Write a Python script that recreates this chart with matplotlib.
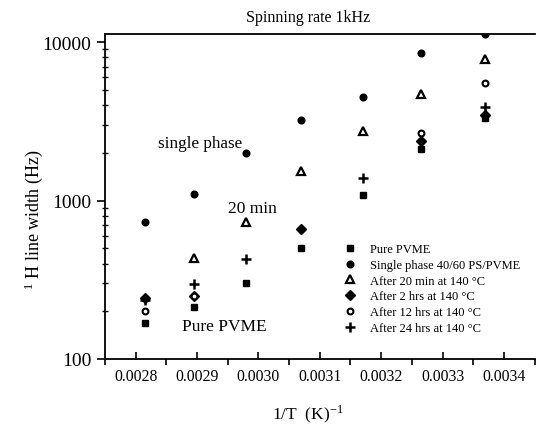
import numpy as np
import matplotlib
matplotlib.use("Agg")
import matplotlib.pyplot as plt
import matplotlib.ticker as ticker
from matplotlib.lines import Line2D

plt.rcParams["font.family"] = "Liberation Serif"
plt.rcParams["mathtext.fontset"] = "stix"

# ── Data ─────────────────────────────────────────────────────
inv_T = [0.002815, 0.002895, 0.00298, 0.00307, 0.00317, 0.003265, 0.00337]

pure_pvme    = [168, 212, 302, 502, 1076, 2100, 3300]
single_phase = [730, 1100, 2000, 3200, 4480, 8570, 11200]
after_20min  = [np.nan, 432, 736, 1530, 2730, 4720, 7850]
after_2hrs   = [243, 250, np.nan, 662, np.nan, 2390, 3440]
after_12hrs  = [202, 250, np.nan, np.nan, np.nan, 2660, 5540]
after_24hrs  = [235, 298, 427, np.nan, 1390, np.nan, 3890]

labels = ["Pure PVME", "Single phase 40/60 PS/PVME", "After 20 min at 140 °C",
          "After 2 hrs at 140 °C", "After 12 hrs at 140 °C", "After 24 hrs at 140 °C"]

fig = plt.figure(figsize=(5.37, 4.27), dpi=100)
ax = fig.add_axes([0.1955, 0.157, 0.80, 0.761])

ax.plot(inv_T, pure_pvme, ls="none", marker="s", ms=4.5, color="black")
ax.plot(inv_T, single_phase, ls="none", marker="o", ms=4.8, color="black")
ax.plot(inv_T, after_20min, ls="none", marker="^", ms=6, mfc="white", mec="black", mew=1.6)
ax.plot(inv_T, after_24hrs, ls="none", marker="+", ms=6.5, color="black", mew=1.8)
ax.plot(inv_T, after_2hrs, ls="none", marker="D", ms=4.8, color="black")
ax.plot(inv_T, after_12hrs, ls="none", marker="o", ms=4.2, mfc="white", mec="black", mew=1.5)

ax.set_yscale("log")
ax.set_xlim(0.00275, 0.00345)
ax.set_ylim(100, 11240)

ax.set_xticks([0.0028, 0.0029, 0.0030, 0.0031, 0.0032, 0.0033, 0.0034])
ax.set_xticklabels(["0.0028", "0.0029", "0.0030", "0.0031", "0.0032", "0.0033", "0.0034"])
ax.xaxis.set_minor_locator(ticker.FixedLocator(np.arange(0.00275, 0.00346, 0.0001)))
ax.tick_params(axis="x", which="major", direction="in", length=5, width=1.2,
               labelsize=11.3, pad=6.5)
ax.tick_params(axis="x", which="minor", direction="out", length=4, width=1.2)

ax.set_yticks([100, 1000, 10000])
ax.set_yticklabels(["100", "1000", "10000"])
ax.yaxis.set_minor_locator(ticker.LogLocator(base=10, subs=np.arange(2, 10)))
ax.yaxis.set_minor_formatter(ticker.NullFormatter())
ax.tick_params(axis="y", which="major", direction="out", length=6, width=1.2,
               labelsize=14, pad=4)
ax.tick_params(axis="y", which="minor", direction="inout", length=4, width=1.0)

ax.spines["right"].set_visible(False)
for s in ["left", "bottom", "top"]:
    ax.spines[s].set_linewidth(1.3)

fig.text(0.574, 0.958, "Spinning rate 1kHz", ha="center", va="center", fontsize=11.5)
fig.text(0.574, 0.03, "1/T  (K)$^{\\mathregular{-1}}$", ha="center", va="center", fontsize=12.5)
fig.text(0.062, 0.485, "$^{\\mathregular{1}}$ H line width (Hz)", rotation=90,
         ha="center", va="center", fontsize=13)

ax.text(0.002973, 2050, "single phase", ha="right", va="bottom", fontsize=12.3)
ax.text(0.00299, 800, "20 min", ha="center", va="bottom", fontsize=12.5)
ax.text(0.002875, 162, "Pure PVME", ha="left", va="center", fontsize=12.5)

handles = [
    Line2D([], [], ls="none", marker="s", ms=4.5, color="black"),
    Line2D([], [], ls="none", marker="o", ms=4.8, color="black"),
    Line2D([], [], ls="none", marker="^", ms=6, mfc="white", mec="black", mew=1.6),
    Line2D([], [], ls="none", marker="D", ms=4.8, color="black"),
    Line2D([], [], ls="none", marker="o", ms=4.2, mfc="white", mec="black", mew=1.5),
    Line2D([], [], ls="none", marker="+", ms=6.5, color="black", mew=1.8),
]
fig.legend(handles, labels, loc="upper left", bbox_to_anchor=(0.641, 0.428),
           frameon=False, fontsize=9, labelspacing=0.3, handlelength=1.0,
           handletextpad=1.1, borderpad=0, borderaxespad=0)

plt.savefig("out.png", dpi=100)
